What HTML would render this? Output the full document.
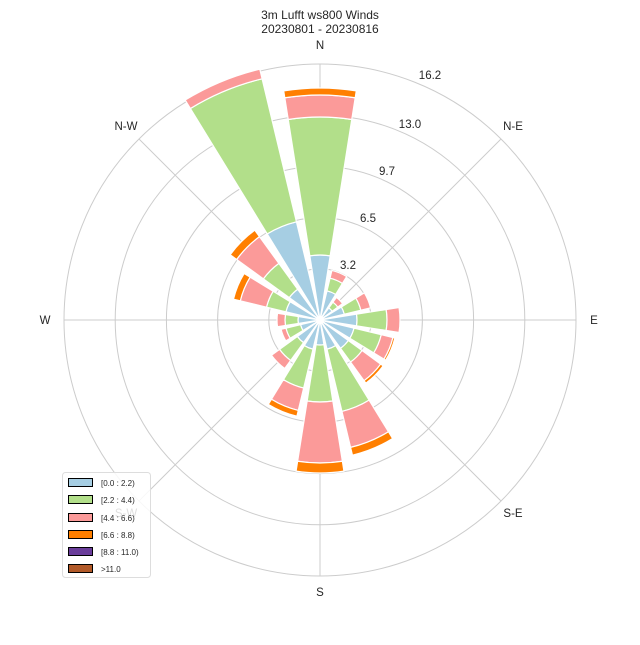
<!DOCTYPE html>
<html><head><meta charset="utf-8"><style>
body{margin:0;background:#fff;}
svg text{font-family:"Liberation Sans",Arial,sans-serif;fill:#262626;}
</style></head><body>
<svg id="s" width="640" height="640" xmlns="http://www.w3.org/2000/svg">
<rect width="640" height="640" fill="#fff"/>
<g id="grid" stroke="#cccccc" stroke-width="1" fill="none">
<circle cx="320" cy="320" r="51.2"/><circle cx="320" cy="320" r="102.4"/><circle cx="320" cy="320" r="153.6"/><circle cx="320" cy="320" r="204.8"/><circle cx="320" cy="320" r="256"/>
<line x1="320" y1="64" x2="320" y2="576"/><line x1="64" y1="320" x2="576" y2="320"/>
<line x1="139" y1="139" x2="501" y2="501"/><line x1="139" y1="501" x2="501" y2="139"/>
</g>
<g id="bars"></g>
<text x="320" y="19" font-size="12" text-anchor="middle">3m Lufft ws800 Winds</text>
<text x="320" y="33" font-size="12" text-anchor="middle">20230801 - 20230816</text>
<g font-size="11.5" text-anchor="middle">
<text x="320" y="49">N</text><text x="594" y="324">E</text><text x="320" y="596">S</text><text x="45" y="324">W</text>
<text x="513" y="130">N-E</text><text x="126" y="130">N-W</text><text x="513" y="517">S-E</text><text x="126" y="517" fill="#ccc">S-W</text>
</g>
<g font-size="11.5" text-anchor="middle">
<text x="348" y="269">3.2</text><text x="368" y="222">6.5</text><text x="387" y="175">9.7</text><text x="410" y="128">13.0</text><text x="430" y="79">16.2</text>
</g>
<rect x="62.5" y="472.5" width="88" height="105" rx="3" fill="#fff" fill-opacity="0.85" stroke="#ddd"/>
<g stroke="#000" stroke-width="1" font-size="8">
<rect x="68.5" y="478.5" width="24" height="8" fill="#a6cee3"/>
<rect x="68.5" y="495.5" width="24" height="8" fill="#b2df8a"/>
<rect x="68.5" y="513.5" width="24" height="8" fill="#fb9a99"/>
<rect x="68.5" y="530.5" width="24" height="8" fill="#ff7f00"/>
<rect x="68.5" y="547.5" width="24" height="8" fill="#6a3d9a"/>
<rect x="68.5" y="564.5" width="24" height="8" fill="#b15928"/>
</g>
<g font-size="8" stroke="none">
<text x="101" y="486">[0.0 : 2.2)</text>
<text x="101" y="503">[2.2 : 4.4)</text>
<text x="101" y="521">[4.4 : 6.6)</text>
<text x="101" y="538">[6.6 : 8.8)</text>
<text x="101" y="555">[8.8 : 11.0)</text>
<text x="101" y="572">&gt;11.0</text>
</g>
</svg>
<script>
var C=["#a6cee3","#b2df8a","#fb9a99","#ff7f00","#6a3d9a"];
var D=[
[65,203,225,232],[30,43,51],[15,22,28],[25,42,52],[37,67,80],[35,63,75,77],[35,52,75,78],[30,94,131,139],
[25,82,143,153],[30,70,93,99],[28,50,60],[20,35,40],[22,35,43],[35,55,82,89],[38,70,103,111],[101,248,258]];
var g=document.getElementById('bars'),h='';
function pt(r,a){return (320+r*Math.sin(a)).toFixed(2)+','+(320-r*Math.cos(a)).toFixed(2);}
for(var i=0;i<16;i++){var c=i*Math.PI/8,w=9*Math.PI/180,a0=c-w,a1=c+w,p=0;
for(var j=0;j<D[i].length;j++){var r=D[i][j];
h+='<path d="M'+pt(p,a0)+' L'+pt(r,a0)+' A'+r+','+r+' 0 0 1 '+pt(r,a1)+' L'+pt(p,a1)+(p>0?' A'+p+','+p+' 0 0 0 '+pt(p,a0):'')+' Z" fill="'+C[j]+'" stroke="#fff" stroke-width="1.2"/>';p=r;}}
g.innerHTML=h;
</script>
</body></html>
